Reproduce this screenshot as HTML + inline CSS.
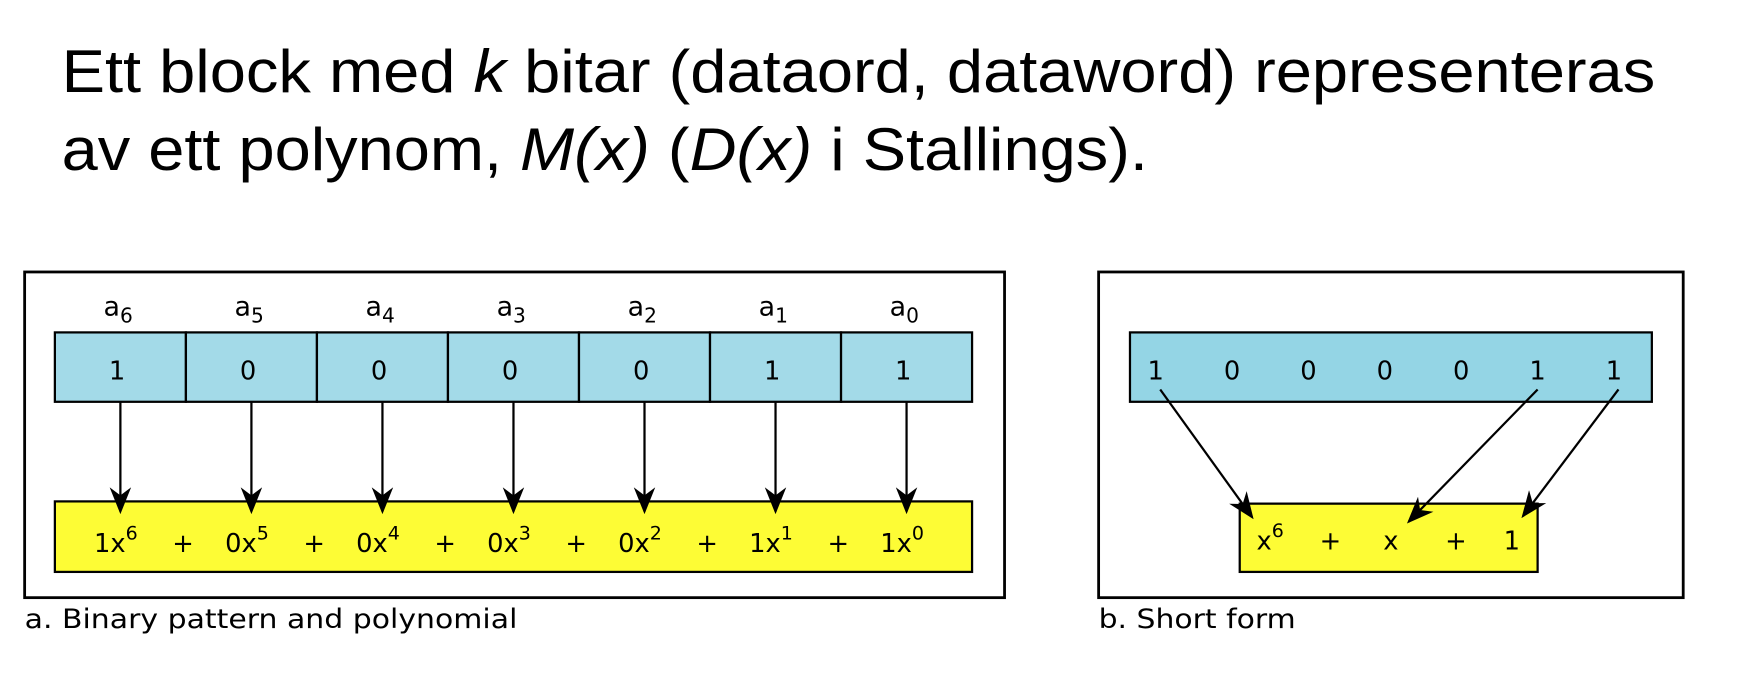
<!DOCTYPE html>
<html><head><meta charset="utf-8"><style>
html,body{margin:0;padding:0;background:#fff;width:1756px;height:676px;overflow:hidden}
svg{display:block}
text{font-family:"Liberation Sans",sans-serif;fill:#000}
.d{font-family:"DejaVu Sans","Liberation Sans",sans-serif}
</style></head><body>
<svg id="s" width="1756" height="676" viewBox="0 0 1568 604" preserveAspectRatio="none">
<defs>
<marker id="ah2" viewBox="0 0 10 10" refX="9" refY="5" markerWidth="24" markerHeight="24" markerUnits="userSpaceOnUse" orient="auto"><path d="M0,1 L10,5 L0,9 L3,5 z" fill="#000"/></marker></defs>
<text x="55" y="82" font-size="54" textLength="1423" lengthAdjust="spacingAndGlyphs">Ett block med <tspan font-style="italic">k</tspan> bitar (dataord, dataword) representeras</text>
<text x="55" y="152" font-size="54" textLength="970" lengthAdjust="spacingAndGlyphs">av ett polynom, <tspan font-style="italic">M(x)</tspan> (<tspan font-style="italic">D(x)</tspan> i Stallings).</text>
<rect x="22" y="243" width="875" height="291" fill="none" stroke="#000" stroke-width="2.5"/>
<rect x="981" y="243" width="522" height="291" fill="none" stroke="#000" stroke-width="2.5"/>
<rect x="49" y="448" width="819" height="63" fill="#fdfc35" stroke="#000" stroke-width="2"/>
<rect x="1009" y="297" width="466" height="62" fill="#94d5e5" stroke="#000" stroke-width="2"/>
<rect x="1107" y="450" width="266" height="61" fill="#fdfc35" stroke="#000" stroke-width="2"/>
<text class="d" x="1122" y="491" font-size="23">x<tspan dy="-11" font-size="17">6</tspan></text>
<text class="d" x="1188" y="491" font-size="23" text-anchor="middle">+</text>
<text class="d" x="1242" y="491" font-size="23" text-anchor="middle">x</text>
<text class="d" x="1300" y="491" font-size="23" text-anchor="middle">+</text>
<text class="d" x="1350" y="491" font-size="23" text-anchor="middle">1</text>
<text class="d" x="22" y="561" font-size="24" textLength="440" lengthAdjust="spacingAndGlyphs">a. Binary pattern and polynomial</text>
<text class="d" x="981" y="561" font-size="24" textLength="176" lengthAdjust="spacingAndGlyphs">b. Short form</text>
</svg>
<script>
const bits = [1,0,0,0,0,1,1];
const exps = [6,5,4,3,2,1,0];
const shortTargets = [[0,1118,462],[5,1258,466],[6,1360,461]];
const NS='http://www.w3.org/2000/svg', s=document.getElementById('s');
function mk(t,a,txt){const e=document.createElementNS(NS,t);for(const k in a)e.setAttribute(k,a[k]);if(txt!=null)e.textContent=txt;s.appendChild(e);return e;}
const x0=49,cw=819/bits.length;
bits.forEach((b,i)=>{
  const cx=x0+cw*i+cw/2;
  const r=mk('rect',{x:x0+cw*i,y:297,width:cw,height:62,fill:'#a3dae8',stroke:'#000','stroke-width':2});
  
  
  const t=mk('text',{x:cx-3,y:339,'font-size':23,'text-anchor':'middle',class:'d'},String(b));
  
  
  const l=mk('text',{x:cx-2,y:282,'font-size':24,'text-anchor':'middle',class:'d'});
  l.innerHTML='a<tspan dy="6" font-size="18">'+exps[i]+'</tspan>';
  
  
  const ar=mk('line',{x1:cx,y1:359,x2:cx,y2:457,stroke:'#000','stroke-width':2,'marker-end':'url(#ah2)'});
  
  
  const term=mk('text',{x:cx-4,y:493,'font-size':23,'text-anchor':'middle',class:'d'});
  term.innerHTML=b+'x<tspan dy="-11" font-size="17">'+exps[i]+'</tspan>';
  
  
  if(i<bits.length-1){
    const p=mk('text',{x:cx+56,y:493,'font-size':23,'text-anchor':'middle',class:'d'},'+');
    
    
  }
  const sx=1032+68.2*i;
  const st=mk('text',{x:sx,y:339,'font-size':23,'text-anchor':'middle',class:'d'},String(b));
  
  
});
shortTargets.forEach(([i,tx,ty])=>{
  const sx=1032+68.2*i+(i===0?4:i===5?0:4);
  const a=mk('line',{x1:sx,y1:348,x2:tx,y2:ty,stroke:'#000','stroke-width':2,'marker-end':'url(#ah2)'});
  
  
});
</script>
</body></html>
